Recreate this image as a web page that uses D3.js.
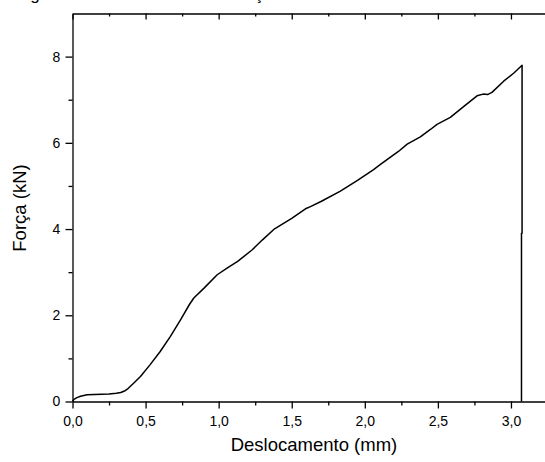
<!DOCTYPE html>
<html>
<head>
<meta charset="utf-8">
<script src="https://cdn.jsdelivr.net/npm/d3@7"></script>
<style>
  body { margin: 0; background: #fff; }
  svg { display: block; font-family: "Liberation Sans", Arial, sans-serif; }
</style>
</head>
<body>
<div class="canvas"></div>
<script>
// data
const deslocamento = [0, 0.01, 0.03, 0.055, 0.1, 0.15, 0.2, 0.25, 0.3, 0.33, 0.36, 0.38, 0.42, 0.465,
  0.53, 0.6, 0.67, 0.74, 0.8, 0.83, 0.9, 0.99, 1.06, 1.13, 1.23, 1.3, 1.377, 1.5, 1.594, 1.628, 1.7,
  1.833, 1.95, 2.06, 2.107, 2.23, 2.29, 2.38, 2.449, 2.494, 2.585, 2.68, 2.768, 2.81, 2.84, 2.87,
  2.95, 3.02, 3.076, 3.076, 3.072, 3.072];
const forca = [0, 0.05, 0.09, 0.12, 0.155, 0.165, 0.17, 0.175, 0.19, 0.21, 0.25, 0.3, 0.43, 0.58,
  0.85, 1.16, 1.51, 1.9, 2.25, 2.4, 2.63, 2.94, 3.1, 3.25, 3.52, 3.75, 3.99, 4.25, 4.47, 4.52, 4.64,
  4.88, 5.13, 5.38, 5.5, 5.8, 5.97, 6.14, 6.31, 6.43, 6.59, 6.85, 7.09, 7.13, 7.12, 7.17,
  7.43, 7.62, 7.8, 3.9, 3.9, 0];

const xTicks = [0, 0.5, 1.0, 1.5, 2.0, 2.5, 3.0];
const xMinor = [0.25, 0.75, 1.25, 1.75, 2.25, 2.75, 3.25];
const yTicks = [0, 2, 4, 6, 8];
const yMinor = [1, 3, 5, 7];

const dims = {width: 545, height: 462};
const plot = {left: 72.5, right: 547.5, top: 13.5, bottom: 401.5};

const svg = d3.select(".canvas").append("svg")
    .attr("width", dims.width)
    .attr("height", dims.height);

const x = d3.scaleLinear().domain([0, 3.25]).range([plot.left, plot.right]);
const y = d3.scaleLinear().domain([0, 9]).range([plot.bottom, plot.top]);

const fmt = d => d3.format(".1f")(d).replace(".", ",");

// title sits above the picture, only its descenders show
svg.append("text")
    .attr("y", 0)
    .attr("font-size", 17)
    .attr("fill", "#000")
    .call(t => {
        t.append("tspan").attr("x", 16).text("Figura 3 – Curva de ");
        t.append("tspan").attr("x", 229).text("Força x Deslocamento");
    });

// bottom axis
const gx = svg.append("g").attr("transform", `translate(0,${plot.bottom})`);
gx.call(d3.axisBottom(x).tickValues(xTicks).tickFormat(fmt).tickSize(7).tickSizeOuter(0));
gx.append("g").call(d3.axisBottom(x).tickValues(xMinor).tickFormat("").tickSize(4).tickSizeOuter(0))
    .select(".domain").remove();

// top axis (ticks inside)
const gt = svg.append("g").attr("transform", `translate(0,${plot.top})`);
gt.call(d3.axisBottom(x).tickValues(xTicks).tickFormat("").tickSize(6).tickSizeOuter(0));
gt.append("g").call(d3.axisBottom(x).tickValues(xMinor).tickFormat("").tickSize(3).tickSizeOuter(0))
    .select(".domain").remove();

// left axis
const gy = svg.append("g").attr("transform", `translate(${plot.left},0)`);
gy.call(d3.axisLeft(y).tickValues(yTicks).tickFormat(d3.format("d")).tickSize(7).tickSizeOuter(0));
gy.append("g").call(d3.axisLeft(y).tickValues(yMinor).tickFormat("").tickSize(4).tickSizeOuter(0))
    .select(".domain").remove();

svg.selectAll(".domain, .tick line")
    .attr("stroke", "#000")
    .attr("stroke-width", 1.3);
svg.selectAll(".tick text")
    .attr("font-family", "Liberation Sans, Arial, sans-serif")
    .attr("font-size", 14)
    .attr("fill", "#000");
gx.selectAll(".tick text").attr("dy", "1.0em");
gy.selectAll(".tick text").attr("dx", "-0.15em");

// curve
const pts = deslocamento.map((d, i) => [d, forca[i]]);
svg.append("path")
    .datum(pts)
    .attr("fill", "none")
    .attr("stroke", "#000")
    .attr("stroke-width", 1.5)
    .attr("stroke-linejoin", "round")
    .attr("d", d3.line().x(d => x(d[0])).y(d => y(d[1])));

// axis titles
svg.append("text")
    .attr("x", 314)
    .attr("y", 451)
    .attr("text-anchor", "middle")
    .attr("font-size", 18.5)
    .text("Deslocamento (mm)");

svg.append("text")
    .attr("transform", "translate(26,208) rotate(-90)")
    .attr("text-anchor", "middle")
    .attr("font-size", 18.5)
    .text("Força (kN)");
</script>
</body>
</html>
